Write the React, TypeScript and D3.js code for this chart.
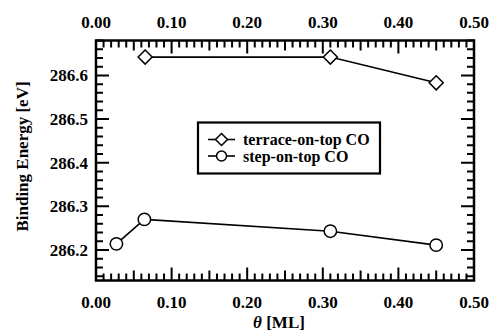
import React from "react";
import * as d3 from "d3";

// coverage (ML) and binding energies (eV)
const terraceTheta = [0.065, 0.31, 0.45];
const terraceBE = [286.642, 286.642, 286.583];
const stepTheta = [0.027, 0.064, 0.31, 0.45];
const stepBE = [286.214, 286.27, 286.243, 286.211];

const xMajor = [0, 0.1, 0.2, 0.3, 0.4, 0.5];
const yMajor = [286.2, 286.3, 286.4, 286.5, 286.6];
const seriesNames = ["terrace-on-top CO", "step-on-top CO"];

const W = 491;
const H = 336;
const margin = { top: 40.5, right: 17, bottom: 55.5, left: 96 };
const FONT = "'Liberation Serif', 'Times New Roman', Times, serif";

function Diamond({ x, y, r = 7 }: { x: number; y: number; r?: number }) {
  return (
    <path
      d={`M${x},${y - r}L${x + r},${y}L${x},${y + r}L${x - r},${y}Z`}
      fill="#fff"
      stroke="#000"
      strokeWidth={1.5}
    />
  );
}

function Circle({ x, y, r = 6.2 }: { x: number; y: number; r?: number }) {
  return <circle cx={x} cy={y} r={r} fill="#fff" stroke="#000" strokeWidth={1.5} />;
}

export default function App() {
  const x0 = margin.left;
  const x1 = W - margin.right;
  const y0 = margin.top;
  const y1 = H - margin.bottom;

  const x = d3.scaleLinear().domain([0, 0.5]).range([x0, x1]);
  const y = d3.scaleLinear().domain([286.13, 286.68]).range([y1, y0]);

  const xMinor = d3.range(0, 51).map((i) => i / 100);
  const yMinor = d3.range(7, 35).map((i) => 286 + i * 0.02);

  const line = d3
    .line<[number, number]>()
    .x((d) => x(d[0]))
    .y((d) => y(d[1]));

  const terrace = terraceTheta.map((t, i) => [t, terraceBE[i]] as [number, number]);
  const step = stepTheta.map((t, i) => [t, stepBE[i]] as [number, number]);

  const xTickLen = (v: number) => {
    const k = Math.round(v * 100);
    if (k % 10 === 0) return 13;
    if (k % 5 === 0) return 10;
    return 7;
  };
  const yTickLen = (v: number) => {
    const k = Math.round((v - 286) * 100);
    return k % 10 === 0 ? 13 : 7;
  };

  let tickD = "";
  xMinor.forEach((v) => {
    const px = x(v);
    const l = xTickLen(v);
    tickD += `M${px},${y1}V${y1 - l}M${px},${y0}V${y0 + l}`;
  });
  yMinor.forEach((v) => {
    const py = y(v);
    const l = yTickLen(v);
    tickD += `M${x0},${py}H${x0 + l}M${x1},${py}H${x1 - l}`;
  });

  const legX = 198;
  const legY = 122.5;
  const legW = 182;
  const legH = 51;

  return (
    <div style={{ position: "absolute", left: 0, top: 0, width: W, height: H, fontFamily: FONT, fontWeight: 700 }}>
      <svg width={W} height={H} viewBox={`0 0 ${W} ${H}`} style={{ display: "block" }}>
        <rect x={0} y={0} width={W} height={H} fill="#fff" />
        {/* ticks */}
        <path d={tickD} fill="none" stroke="#000" strokeWidth={2} />

        {/* data lines */}
        <path d={line(terrace) || ""} fill="none" stroke="#000" strokeWidth={1.6} />
        <path d={line(step) || ""} fill="none" stroke="#000" strokeWidth={1.6} />
        {terrace.map((d, i) => (
          <Diamond key={"t" + i} x={x(d[0])} y={y(d[1])} />
        ))}
        {step.map((d, i) => (
          <Circle key={"s" + i} x={x(d[0])} y={y(d[1])} />
        ))}

        {/* frame */}
        <rect x={x0} y={y0} width={x1 - x0} height={y1 - y0} fill="none" stroke="#000" strokeWidth={2.5} />

        {/* tick labels */}
        {xMajor.map((v) => (
          <text key={"xlb" + v} x={x(v)} y={y1 + 27} fontSize={17} textAnchor="middle">
            {v.toFixed(2)}
          </text>
        ))}
        {xMajor.map((v) => (
          <text key={"xlt" + v} x={x(v)} y={y0 - 12.5} fontSize={17} textAnchor="middle">
            {v.toFixed(2)}
          </text>
        ))}
        {yMajor.map((v) => (
          <text key={"yl" + v} x={x0 - 8} y={y(v) + 6} fontSize={17} textAnchor="end">
            {v.toFixed(1)}
          </text>
        ))}

        {/* axis titles */}
        <text x={(x0 + x1) / 2 - 6} y={H - 8} fontSize={17} textAnchor="middle">
          <tspan fontStyle="italic">θ</tspan> [ML]
        </text>
        <text transform={`translate(28, ${(y0 + y1) / 2 - 4}) rotate(-90)`} fontSize={17} textAnchor="middle">
          Binding Energy [eV]
        </text>

        {/* legend */}
        <rect x={legX} y={legY} width={legW} height={legH} fill="#fff" stroke="#000" strokeWidth={2.2} />
        {seriesNames.map((name, i) => {
          const ly = legY + 17 + i * 16.5;
          return (
            <g key={name}>
              <path d={`M${legX + 10},${ly}H${legX + 37}`} stroke="#000" strokeWidth={1.6} />
              {i === 0 ? <Diamond x={legX + 23.5} y={ly} r={6} /> : <Circle x={legX + 23.5} y={ly} r={5} />}
              <text x={legX + 45} y={ly + 5.5} fontSize={16}>
                {name}
              </text>
            </g>
          );
        })}
      </svg>
    </div>
  );
}
